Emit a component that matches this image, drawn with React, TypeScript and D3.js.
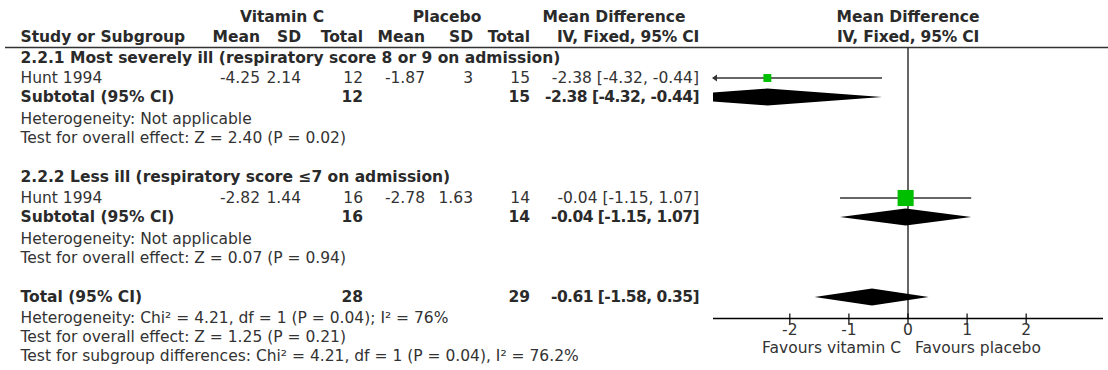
import React from 'react';
import * as d3 from 'd3';

// study level numbers
const subgroupTitles = [
  '2.2.1 Most severely ill (respiratory score 8 or 9 on admission)',
  '2.2.2 Less ill (respiratory score ≤7 on admission)',
];
const studyNames = ['Hunt 1994', 'Hunt 1994'];
const vitMean = [-4.25, -2.82];
const vitSD = [2.14, 1.44];
const vitN = [12, 16];
const plaMean = [-1.87, -2.78];
const plaSD = [3, 1.63];
const plaN = [15, 14];
const md = [-2.38, -0.04];
const mdLow = [-4.32, -1.15];
const mdHigh = [-0.44, 1.07];
const weights = [24.5, 75.5];
const subHet = ['Heterogeneity: Not applicable', 'Heterogeneity: Not applicable'];
const subTest = ['Test for overall effect: Z = 2.40 (P = 0.02)', 'Test for overall effect: Z = 0.07 (P = 0.94)'];

// pooled
const totalN = [28, 29];
const totalMD = [-0.61, -1.58, 0.35];
const totalNotes = [
  'Heterogeneity: Chi² = 4.21, df = 1 (P = 0.04); I² = 76%',
  'Test for overall effect: Z = 1.25 (P = 0.21)',
  'Test for subgroup differences: Chi² = 4.21, df = 1 (P = 0.04), I² = 76.2%',
];
const ticks = [-2, -1, 0, 1, 2];
const favours = ['Favours vitamin C', 'Favours placebo'];

const fmt = (v: number) => v.toFixed(2);
const ciText = (m: number, l: number, h: number) => `${fmt(m)} [${fmt(l)}, ${fmt(h)}]`;

export default function App() {
  const W = 1108, H = 370;
  const x = d3.scaleLinear().domain([-3.3, 3.3]).range([713, 1103]);
  const box = d3.scaleLinear().domain([0, 100]).range([4, 20]);
  const axisY = 318.5;
  const left = 20.5;
  const col = { vm: 260, vs: 301, vt: 363, pm: 425, ps: 473, pt: 530, ci: 699 };

  // baselines for each subgroup block: title, study, subtotal, het, test
  const blocks = [
    [62.5, 83, 102, 124, 143],
    [182, 203, 222, 244, 263],
  ];
  const totalRows = [302, 323, 342, 361];

  const diamond = (m: number, l: number, h: number, cy: number) => {
    const hh = 8.5;
    return `M${x(l)},${cy} L${x(m)},${cy - hh} L${x(h)},${cy} L${x(m)},${cy + hh} Z`;
  };

  const T = (props: any) => (
    <text x={props.x} y={props.y} textAnchor={props.a || 'start'} fontWeight={props.b ? 'bold' : 'normal'}
      fontSize={props.fs} letterSpacing={props.ls} fill={props.b ? '#2a2a2a' : '#333'}>
      {props.children}
    </text>
  );

  return (
    <svg width={W} height={H} style={{ position: 'absolute', left: 0, top: 0 }}
      fontFamily="DejaVu Sans" fontSize={15.5}>
      <defs>
        <clipPath id="plotclip">
          <rect x={x(-3.3)} y={0} width={x(3.3) - x(-3.3)} height={H} />
        </clipPath>
      </defs>

      {/* header */}
      <T x={282} y={22} a="middle" b>Vitamin C</T>
      <T x={447} y={22} a="middle" b>Placebo</T>
      <T x={614} y={22} a="middle" b>Mean Difference</T>
      <T x={908} y={22} a="middle" b>Mean Difference</T>
      <T x={left} y={42} b>Study or Subgroup</T>
      <T x={col.vm} y={42} a="end" b>Mean</T>
      <T x={col.vs} y={42} a="end" b>SD</T>
      <T x={col.vt} y={42} a="end" b>Total</T>
      <T x={col.pm} y={42} a="end" b>Mean</T>
      <T x={col.ps} y={42} a="end" b>SD</T>
      <T x={col.pt} y={42} a="end" b>Total</T>
      <T x={col.ci} y={42} a="end" b ls={-0.2}>IV, Fixed, 95% CI</T>
      <T x={908} y={42} a="middle" b ls={-0.2}>IV, Fixed, 95% CI</T>
      <line x1={5} x2={W} y1={47.5} y2={47.5} stroke="#333" strokeWidth={1.5} />

      {/* no effect line */}
      <line x1={x(0)} x2={x(0)} y1={47.5} y2={axisY} stroke="#333" strokeWidth={1.5} />

      {blocks.map((r, i) => {
        const sy = r[1] - 5, dy = r[2] - 5;
        const s = box(weights[i]);
        const clipped = mdLow[i] < x.domain()[0];
        const lx = clipped ? x.range()[0] : x(mdLow[i]);
        return (
          <g key={i}>
            <T x={left} y={r[0]} b>{subgroupTitles[i]}</T>
            <T x={left} y={r[1]}>{studyNames[i]}</T>
            <T x={col.vm} y={r[1]} a="end">{vitMean[i]}</T>
            <T x={col.vs} y={r[1]} a="end">{vitSD[i]}</T>
            <T x={col.vt} y={r[1]} a="end">{vitN[i]}</T>
            <T x={col.pm} y={r[1]} a="end">{plaMean[i]}</T>
            <T x={col.ps} y={r[1]} a="end">{plaSD[i]}</T>
            <T x={col.pt} y={r[1]} a="end">{plaN[i]}</T>
            <T x={col.ci} y={r[1]} a="end">{ciText(md[i], mdLow[i], mdHigh[i])}</T>
            <T x={left} y={r[2]} b>Subtotal (95% CI)</T>
            <T x={col.vt} y={r[2]} a="end" b>{vitN[i]}</T>
            <T x={col.pt} y={r[2]} a="end" b>{plaN[i]}</T>
            <T x={col.ci} y={r[2]} a="end" b ls={-0.55}>{ciText(md[i], mdLow[i], mdHigh[i])}</T>
            <T x={left} y={r[3]}>{subHet[i]}</T>
            <T x={left} y={r[4]}>{subTest[i]}</T>

            <line x1={lx} x2={x(mdHigh[i])} y1={sy} y2={sy} stroke="#333" strokeWidth={1.5} />
            {clipped && (
              <path d={`M${lx - 1},${sy} L${lx + 4},${sy - 3.5} L${lx + 4},${sy + 3.5} Z`} fill="#333" />
            )}
            <rect x={x(md[i]) - s / 2} y={sy - s / 2} width={s} height={s} fill="#00bf00" />
            <path d={diamond(md[i], mdLow[i], mdHigh[i], dy)} fill="#000" clipPath="url(#plotclip)" />
          </g>
        );
      })}

      {/* overall */}
      <T x={left} y={totalRows[0]} b>Total (95% CI)</T>
      <T x={col.vt} y={totalRows[0]} a="end" b>{totalN[0]}</T>
      <T x={col.pt} y={totalRows[0]} a="end" b>{totalN[1]}</T>
      <T x={col.ci} y={totalRows[0]} a="end" b ls={-0.55}>{ciText(totalMD[0], totalMD[1], totalMD[2])}</T>
      {totalNotes.map((t, i) => (
        <T key={i} x={left} y={totalRows[i + 1]}>{t}</T>
      ))}
      <path d={diamond(totalMD[0], totalMD[1], totalMD[2], totalRows[0] - 5)} fill="#000" clipPath="url(#plotclip)" />

      {/* axis */}
      <line x1={x.range()[0]} x2={x.range()[1]} y1={axisY} y2={axisY} stroke="#000" strokeWidth={1.5} />
      {ticks.map(t => (
        <g key={t}>
          <line x1={x(t)} x2={x(t)} y1={axisY - 5} y2={axisY + 6} stroke="#000" strokeWidth={1.2} />
          <T x={x(t)} y={335} a="middle">{t}</T>
        </g>
      ))}
      <T x={x(0) - 7} y={352.5} a="end">{favours[0]}</T>
      <T x={x(0) + 7} y={352.5}>{favours[1]}</T>
    </svg>
  );
}
